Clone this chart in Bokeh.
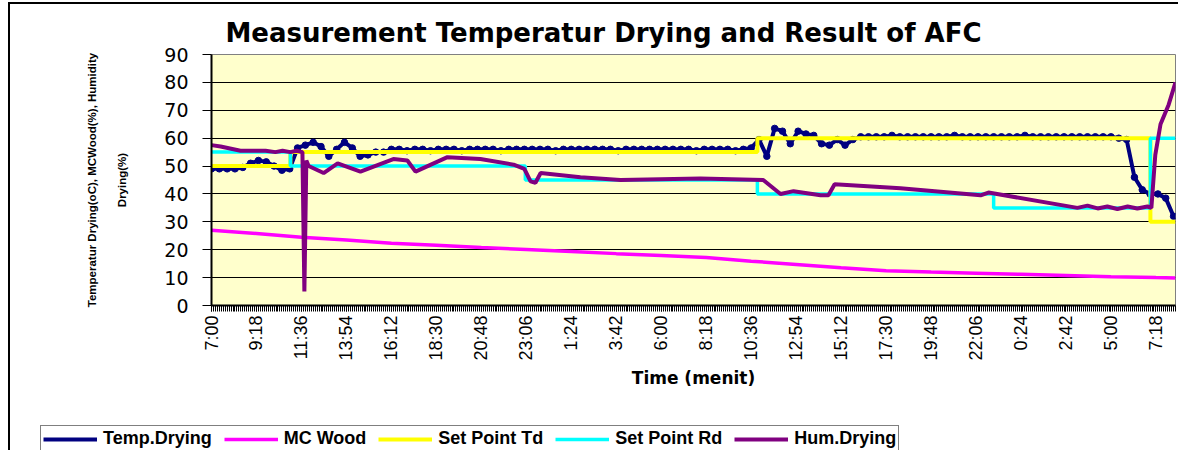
import math
import numpy as np
from bokeh.plotting import figure
from bokeh.layouts import column
from bokeh.models import Range1d, FixedTicker, Legend, LegendItem
from bokeh.core.properties import value
from bokeh.embed import file_html
from bokeh.resources import INLINE

# ---------------- data ----------------
tick_labels = ["7:00", "9:18", "11:36", "13:54", "16:12", "18:30", "20:48", "23:06",
               "1:24", "3:42", "6:00", "8:18", "10:36", "12:54", "15:12", "17:30",
               "19:48", "22:06", "0:24", "2:42", "5:00", "7:18"]
label_step_min = 138      # minutes between labelled categories
category_step_min = 6     # minutes per category
end_min = 2958

temp_step_min = 24
temp_drying = [49, 49, 49, 49, 49.5, 51, 52, 51.5, 50, 48.5,
               49, 56.5, 57.5, 58.5, 57, 53.5, 56, 58.5, 56.5, 53.5,
               54, 55, 55, 56,
               56, 55.5, 56, 56, 55.5, 56, 56, 56, 55.5, 56,
               56, 56, 56, 55.5, 56, 56, 56, 56, 56, 56,
               55.5, 56, 56, 56, 56, 56, 56, 56, 55.5, 56,
               56, 56, 56, 56, 56, 56, 56, 56, 55.5, 56,
               56, 56, 56, 55.5, 56, 56.5,
               59.5, 53.5, 63.5, 62.5, 58, 62.5, 61.5, 61, 58, 57.5,
               59.5, 57.5, 59.5, 60.5,
               60.5, 60.5, 60.5, 61, 60.5, 60.5, 60.5, 60.5, 60.5, 60.5,
               60.5, 61, 60.5, 60.5, 60.5, 60.5, 60.5, 60.5, 60.5, 60.5,
               61, 60.5, 60.5, 60.5, 60.5, 60.5, 60.5, 60.5, 60.5, 60.5,
               60.5, 60.5, 60,
               59.5, 46, 41.5, 40, 40, 38.5, 32]

mc_time = [0, 138, 276, 414, 552, 690, 828, 966, 1104, 1242, 1380, 1518,
           1656, 1794, 1932, 2070, 2208, 2346, 2484, 2622, 2760, 2898, 2958]
mc_wood = [27, 25.8, 24.5, 23.5, 22.3, 21.6, 20.8, 20.1, 19.4, 18.6, 17.9, 17.2,
           15.9, 14.7, 13.5, 12.5, 12.0, 11.6, 11.2, 10.8, 10.3, 10.0, 9.9]

td_time = [0, 242, 1675, 2881, 2958]
set_point_td = [50, 55, 60, 30, 30]

rd_time = [0, 242, 963, 1675, 2400, 2881, 2958]
set_point_rd = [55, 50, 45, 40, 35, 60, 60]

hum_time = [0, 28, 89, 166, 196, 218, 242, 261, 279, 285, 291, 298,
            344, 387, 457, 558, 601, 626, 724, 825, 927, 960, 979, 994,
            1010, 1132, 1255, 1500, 1693, 1746, 1786, 1869, 1893, 1912,
            2114, 2360, 2384, 2657, 2688, 2719, 2749, 2780, 2811, 2841,
            2872, 2884, 2896, 2912, 2937, 2958]
hum_drying = [57.5, 57, 55.5, 55.5, 55, 55.5, 55, 55.5, 55, 5, 52, 50,
              47.5, 51, 48, 52.5, 52, 48, 53.2, 52.5, 50.5, 49, 44.5, 44,
              47.5, 46, 45, 45.5, 45, 40, 41, 39.5, 39.5, 43.5,
              42, 39.5, 40.5, 35, 35.8, 34.8, 35.5, 34.6, 35.5, 34.8,
              35.5, 35, 54, 65, 72, 80]

series_names = ["Temp.Drying", "MC Wood", "Set Point Td", "Set Point Rd", "Hum.Drying"]
series_colors = ["#000080", "#FF00FF", "#FFFF00", "#00FFFF", "#800080"]

temp_time = list(np.arange(len(temp_drying)) * temp_step_min)


def add_series(fig, with_markers):
    rs = []
    rs.append(fig.line(temp_time, temp_drying, line_color=series_colors[0], line_width=4))
    if with_markers:
        fig.scatter(temp_time, temp_drying, size=6.5, fill_color=series_colors[0],
                    line_color=series_colors[0])
    rs.append(fig.line(mc_time, mc_wood, line_color=series_colors[1], line_width=3.5))
    rs.append(fig.step(td_time, set_point_td, mode="after",
                       line_color=series_colors[2], line_width=4))
    rs.append(fig.step(rd_time, set_point_rd, mode="after",
                       line_color=series_colors[3], line_width=3.5))
    rs.append(fig.line(hum_time, hum_drying, line_color=series_colors[4], line_width=4))
    return rs


# ---------------- main figure ----------------
p = figure(width=1178, height=424,
           x_range=Range1d(0, end_min), y_range=Range1d(0, 90),
           output_backend="svg", toolbar_location=None,
           min_border_left=211, min_border_right=3,
           min_border_top=54, min_border_bottom=119,
           title="Measurement Temperatur Drying and Result of AFC")

p.background_fill_color = "#FFFFCC"
p.border_fill_alpha = 0
p.outline_line_color = "#808080"
p.outline_line_width = 1

p.title.align = "left"
p.title.offset = 14
p.title.text_font = "DejaVu Sans"
p.title.text_font_size = "26px"
p.title.text_font_style = "bold"
p.title.text_color = "black"
p.title.standoff = 13

# y axis
yax = p.yaxis[0]
yax.ticker = FixedTicker(ticks=list(range(0, 91, 10)), minor_ticks=[])
yax.axis_line_color = "black"
yax.axis_line_width = 2
yax.major_tick_out = 9
yax.major_tick_in = 0
yax.major_tick_line_color = "black"
yax.minor_tick_line_color = None
yax.major_label_text_font = "DejaVu Sans"
yax.major_label_text_font_size = "19px"
yax.major_label_text_color = "black"
yax.major_label_standoff = 14
yax.axis_label = "Temperatur Drying(oC), MCWood(%), Humidity\nDrying(%)"
yax.axis_label_text_font = "Liberation Sans"
yax.axis_label_text_font_size = "11.5px"
yax.axis_label_text_font_style = "bold"
yax.axis_label_text_color = "black"
yax.axis_label_text_line_height = 2.5
yax.axis_label_standoff = 33

# x axis
xax = p.xaxis[0]
major_ticks = [k * label_step_min for k in range(len(tick_labels))]
xax.ticker = FixedTicker(ticks=major_ticks,
                         minor_ticks=list(range(0, end_min + 1, category_step_min)))
xax.major_label_overrides = {t: lbl for t, lbl in zip(major_ticks, tick_labels)}
xax.major_label_orientation = math.pi / 2
xax.major_label_text_font = "Liberation Sans"
xax.major_label_text_font_size = "18px"
xax.major_label_text_color = "black"
xax.major_label_standoff = 4
xax.axis_line_color = "black"
xax.axis_line_width = 2
xax.major_tick_out = 6
xax.major_tick_in = 0
xax.minor_tick_out = 6
xax.minor_tick_in = 0
xax.major_tick_line_color = "black"
xax.minor_tick_line_color = "black"
xax.axis_label = "Time (menit)"
xax.axis_label_text_font = "DejaVu Sans"
xax.axis_label_text_font_size = "17px"
xax.axis_label_text_font_style = "bold"
xax.axis_label_text_color = "black"
xax.axis_label_standoff = 4

p.xgrid.visible = False
p.ygrid.grid_line_color = "black"
p.ygrid.grid_line_width = 1

add_series(p, with_markers=True)

# ---------------- legend strip ----------------
# Same series drawn out of view (y range far below the data); only the legend shows.
p2 = figure(width=1178, height=26, x_range=Range1d(0, end_min), y_range=Range1d(-300, -280),
            output_backend="svg", toolbar_location=None,
            x_axis_type=None, y_axis_type=None,
            min_border=0, min_border_left=0, min_border_right=0,
            min_border_top=0, min_border_bottom=0)
p2.background_fill_alpha = 0
p2.border_fill_alpha = 0
p2.outline_line_color = None
p2.grid.visible = False
p2.styles = {"transform": "translateX(-211px)"}

legend_renderers = add_series(p2, with_markers=False)
items = [LegendItem(label=value(n), renderers=[r])
         for n, r in zip(series_names, legend_renderers)]

legend = Legend(items=items, orientation="horizontal", location=(40, -2))
legend.label_text_font = "Liberation Sans"
legend.label_text_font_size = "18px"
legend.label_text_font_style = "bold"
legend.label_text_color = "black"
legend.glyph_width = 54
legend.glyph_height = 16
legend.label_height = 16
legend.label_standoff = 6
legend.spacing = 12
legend.padding = 2
legend.margin = 0
legend.border_line_color = "black"
legend.border_line_width = 1
legend.background_fill_color = "white"
legend.background_fill_alpha = 1
p2.add_layout(legend)

layout = column(p, p2, spacing=0)
layout.styles = {
    "background-color": "white",
    "background-image": "linear-gradient(black, black), linear-gradient(black, black)",
    "background-size": "2px 460px, 1200px 2px",
    "background-position": "8px 2px, 8px 2px",
    "background-repeat": "no-repeat",
}

open("out.html", "w").write(file_html(layout, INLINE))
